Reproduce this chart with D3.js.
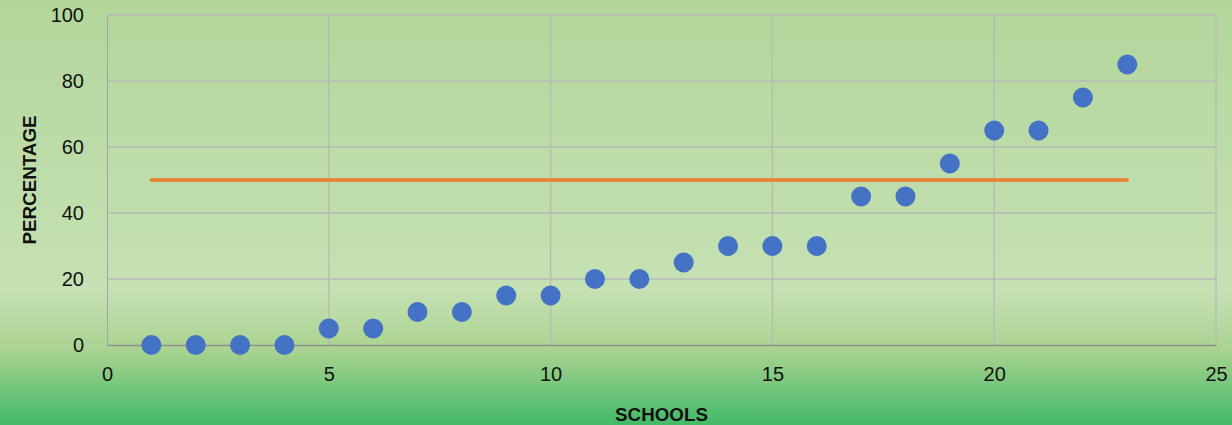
<!DOCTYPE html>
<html><head><meta charset="utf-8">
<script src="https://cdn.jsdelivr.net/npm/d3@7/dist/d3.min.js"></script>
<style>html,body{margin:0;padding:0;overflow:hidden;background:#fff}</style>
</head><body>
<script>
const schools = [1,2,3,4,5,6,7,8,9,10,11,12,13,14,15,16,17,18,19,20,21,22,23];
const percentages = [0,0,0,0,5,5,10,10,15,15,20,20,25,30,30,30,45,45,55,65,65,75,85];
const thresholdX = [1,23];
const thresholdY = [50,50];
const xTicks = [0,5,10,15,20,25];
const yTicks = [0,20,40,60,80,100];
const xTitle = "SCHOOLS";
const yTitle = "PERCENTAGE";

const W = 1232, H = 425;
const m = {left:107, right:1216, top:15, bottom:345};
const svg = d3.select("body").append("svg").attr("width",W).attr("height",H);
const defs = svg.append("defs");
const g = defs.append("linearGradient").attr("id","bg").attr("x1",0).attr("y1",0).attr("x2",0).attr("y2",1);
[[0,"#b2d69a"],[0.68,"#c6e1b4"],[0.82,"#abd391"],[1,"#42ba68"]].forEach(([o,c])=>g.append("stop").attr("offset",o).attr("stop-color",c));
svg.append("rect").attr("width",W).attr("height",H).attr("fill","url(#bg)");

const x = d3.scaleLinear().domain([0,25]).range([m.left,m.right]);
const y = d3.scaleLinear().domain([0,100]).range([m.bottom,m.top]);
const font = "'Liberation Sans', Arial, sans-serif";

// gridlines
svg.append("g").selectAll("line").data(yTicks.filter(d=>d>0)).join("line")
  .attr("x1",m.left).attr("x2",m.right).attr("y1",d=>y(d)).attr("y2",d=>y(d))
  .attr("stroke","#b8b8b8").attr("stroke-width",1.3);
svg.append("g").selectAll("line").data(xTicks.filter(d=>d>0)).join("line")
  .attr("y1",m.top).attr("y2",m.bottom).attr("x1",d=>x(d)).attr("x2",d=>x(d))
  .attr("stroke","#b8b8b8").attr("stroke-width",1.3);

// axes
const xAxis = svg.append("g").attr("transform",`translate(0,${m.bottom})`)
  .call(d3.axisBottom(x).tickValues(xTicks).tickSize(0).tickPadding(22));
xAxis.select(".domain").attr("stroke","#8f8f8f").attr("stroke-width",1.3);
xAxis.selectAll("text").attr("font-family",font).attr("font-size","20px").attr("fill","#111");
const yAxis = svg.append("g").attr("transform",`translate(${m.left},0)`)
  .call(d3.axisLeft(y).tickValues(yTicks).tickSize(0).tickPadding(23));
yAxis.select(".domain").attr("stroke","#a4a4a4").attr("stroke-width",1);
yAxis.selectAll("text").attr("font-family",font).attr("font-size","20px").attr("fill","#111");

// threshold line
svg.append("path").datum(thresholdX.map((d,i)=>[d,thresholdY[i]]))
  .attr("d",d3.line().x(d=>x(d[0])).y(d=>y(d[1])))
  .attr("fill","none").attr("stroke","#ed7d31").attr("stroke-width",3.5).attr("stroke-linecap","round");

// points
svg.append("g").selectAll("circle").data(schools.map((s,i)=>[s,percentages[i]])).join("circle")
  .attr("cx",d=>x(d[0])).attr("cy",d=>y(d[1])).attr("r",10).attr("fill","#4472c4");

// titles
svg.append("text").attr("x",(m.left+m.right)/2).attr("y",421).attr("text-anchor","middle")
  .attr("font-family",font).attr("font-weight","bold").attr("font-size","18.8px").attr("fill","#111").text(xTitle);
svg.append("text").attr("transform",`translate(36,${(m.top+m.bottom)/2}) rotate(-90)`).attr("text-anchor","middle")
  .attr("font-family",font).attr("font-weight","bold").attr("font-size","18.8px").attr("fill","#111").text(yTitle);
</script>
</body></html>
